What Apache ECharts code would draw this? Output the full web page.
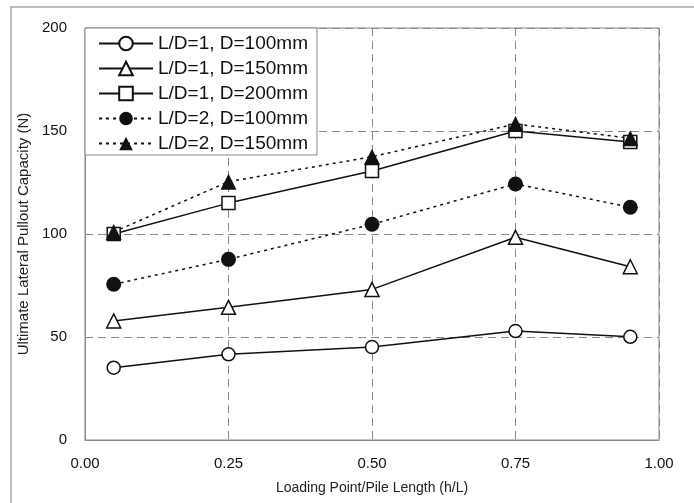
<!DOCTYPE html>
<html>
<head>
<meta charset="utf-8">
<script src="https://cdn.jsdelivr.net/npm/echarts@6/dist/echarts.min.js"></script>
<style>
  html, body { margin: 0; padding: 0; background: #fff; }
  #chart { width: 694px; height: 503px; }
</style>
</head>
<body>
<div id="chart"></div>
<script>
// loading point ratio h/L
const ratios = [0.05, 0.25, 0.5, 0.75, 0.95];

const names = [
  'L/D=1, D=100mm',
  'L/D=1, D=150mm',
  'L/D=1, D=200mm',
  'L/D=2, D=100mm',
  'L/D=2, D=150mm'
];

const ld1d100 = [35.1, 41.6, 45.1, 52.9, 50.1];
const ld1d150 = [57.8, 64.4, 73.1, 98.4, 84.1];
const ld1d200 = [100, 115, 130.6, 150, 144.7];
const ld2d100 = [75.6, 87.7, 104.7, 124.3, 113];
const ld2d150 = [101, 125.4, 137.5, 153.4, 146.5];

const xTicks = [0, 0.25, 0.5, 0.75, 1];
const yTicks = [0, 50, 100, 150, 200];

const font = 'Liberation Sans, Arial, sans-serif';

function mkSeries(name, vals, symbol, filled, dotted, size) {
  return {
    name: name,
    type: 'line',
    data: ratios.map((x, i) => [x, vals[i]]),
    symbol: symbol,
    symbolSize: size,
    showAllSymbol: true,
    lineStyle: { color: '#111', width: 1.5, type: dotted ? [3, 4] : 'solid' },
    itemStyle: {
      color: filled ? '#111' : '#fff',
      borderColor: '#111',
      borderWidth: filled ? 0 : 1.5
    },
    emphasis: { disabled: true },
    animation: false
  };
}

const chart = echarts.init(document.getElementById('chart'));
chart.setOption({
  backgroundColor: '#fff',
  animation: false,
  graphic: [{
    type: 'rect',
    shape: { x: 11, y: 7, width: 720, height: 540 },
    style: { fill: 'none', stroke: '#aaa', lineWidth: 1.5 },
    z: -10
  }],
  grid: {
    left: 85, top: 28, right: 35, bottom: 63,
    show: true, borderColor: '#888', borderWidth: 1
  },
  legend: {
    orient: 'vertical',
    left: 85, top: 28,
    backgroundColor: '#fff',
    borderColor: '#888',
    borderWidth: 1,
    borderRadius: 0,
    padding: [6, 9, 2, 13],
    itemWidth: 54,
    itemHeight: 17,
    itemGap: 6,
    data: names,
    textStyle: { fontFamily: font, fontSize: 19, color: '#111', lineHeight: 18 },
    z: 10
  },
  xAxis: {
    type: 'value',
    min: xTicks[0], max: xTicks[xTicks.length - 1], interval: 0.25,
    name: 'Loading Point/Pile Length (h/L)',
    nameLocation: 'middle',
    nameGap: 41,
    nameTextStyle: { fontFamily: font, fontSize: 14, color: '#222' },
    axisLine: { show: true, lineStyle: { color: '#888', width: 1 } },
    axisTick: { show: false },
    axisLabel: {
      fontFamily: font, fontSize: 15, color: '#111', margin: 16,
      formatter: v => v.toFixed(2)
    },
    splitLine: { show: true, lineStyle: { color: '#888', type: [8, 5], width: 1 } }
  },
  yAxis: {
    type: 'value',
    min: yTicks[0], max: yTicks[yTicks.length - 1], interval: 50,
    name: 'Ultimate Lateral Pullout Capacity (N)',
    nameLocation: 'middle',
    nameGap: 50,
    nameTextStyle: { fontFamily: font, fontSize: 15, color: '#222' },
    axisLine: { show: true, lineStyle: { color: '#888', width: 1 } },
    axisTick: { show: false },
    axisLabel: { fontFamily: font, fontSize: 15, color: '#111', margin: 18 },
    splitLine: { show: true, lineStyle: { color: '#888', type: [8, 5], width: 1 } }
  },
  series: [
    mkSeries(names[0], ld1d100, 'circle', false, false, 13),
    mkSeries(names[1], ld1d150, 'triangle', false, false, 14),
    mkSeries(names[2], ld1d200, 'rect', false, false, 13),
    mkSeries(names[3], ld2d100, 'circle', true, true, 15),
    mkSeries(names[4], ld2d150, 'triangle', true, true, 16)
  ]
});
</script>
</body>
</html>
